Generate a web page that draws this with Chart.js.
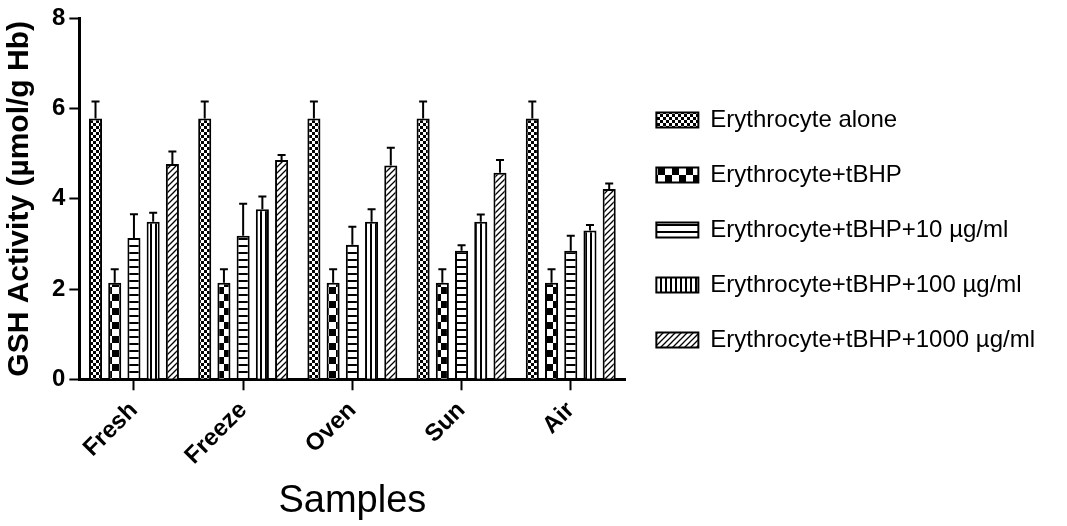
<!DOCTYPE html>
<html>
<head>
<meta charset="utf-8">
<script src="https://cdn.jsdelivr.net/npm/chart.js@4/dist/chart.umd.min.js"></script>
<style>
  body { margin: 0; background: #fff; }
  #chart { display: block; }
</style>
</head>
<body>
<canvas id="chart" width="1067" height="526"></canvas>
<script>
// categories and series
var samples = ['Fresh', 'Freeze', 'Oven', 'Sun', 'Air'];
var seriesNames = [
    'Erythrocyte alone',
    'Erythrocyte+tBHP',
    'Erythrocyte+tBHP+10 \u00b5g/ml',
    'Erythrocyte+tBHP+100 \u00b5g/ml',
    'Erythrocyte+tBHP+1000 \u00b5g/ml'
];
var aloneVals = [5.78, 5.78, 5.78, 5.78, 5.78];
var aloneErr = [0.38, 0.38, 0.38, 0.38, 0.38];
var tbhpVals = [2.14, 2.14, 2.14, 2.14, 2.14];
var tbhpErr = [0.30, 0.30, 0.30, 0.30, 0.30];
var dose10Vals = [3.13, 3.18, 2.98, 2.85, 2.85];
var dose10Err = [0.53, 0.71, 0.40, 0.12, 0.33];
var dose100Vals = [3.49, 3.77, 3.49, 3.49, 3.30];
var dose100Err = [0.20, 0.28, 0.28, 0.16, 0.12];
var dose1000Vals = [4.77, 4.86, 4.74, 4.58, 4.22];
var dose1000Err = [0.28, 0.11, 0.39, 0.28, 0.12];
var yTicks = [0, 2, 4, 6, 8];

var FONT = "'Liberation Sans', Arial, sans-serif";

// black and white fill patterns, one per series
var makePattern = function(kind){
    var c = document.createElement('canvas');
    var g = c.getContext('2d');
    if (kind == 'fine') {
        c.width = 6; c.height = 6;
        g.fillStyle = '#fff'; g.fillRect(0, 0, 6, 6);
        g.fillStyle = '#000';
        g.fillRect(0, 0, 3, 3); g.fillRect(3, 3, 3, 3);
    } else if (kind == 'check') {
        c.width = 14; c.height = 14;
        g.fillStyle = '#fff'; g.fillRect(0, 0, 14, 14);
        g.fillStyle = '#000';
        g.fillRect(0, 0, 7, 7); g.fillRect(7, 7, 7, 7);
    } else if (kind == 'hlines') {
        c.width = 4; c.height = 7;
        g.fillStyle = '#fff'; g.fillRect(0, 0, 4, 7);
        g.fillStyle = '#000'; g.fillRect(0, 0, 4, 2);
    } else if (kind == 'vlines') {
        c.width = 5; c.height = 4;
        g.fillStyle = '#fff'; g.fillRect(0, 0, 5, 4);
        g.fillStyle = '#000'; g.fillRect(0, 0, 2, 4);
    } else {
        c.width = 6; c.height = 6;
        g.fillStyle = '#fff'; g.fillRect(0, 0, 6, 6);
        g.strokeStyle = '#000'; g.lineWidth = 1.3;
        g.beginPath();
        g.moveTo(-1, 7); g.lineTo(7, -1);
        g.moveTo(-1, 1); g.lineTo(1, -1);
        g.moveTo(5, 7); g.lineTo(7, 5);
        g.stroke();
    }
    return g.createPattern(c, 'repeat');
};

var patternKinds = ['fine', 'check', 'hlines', 'vlines', 'diag'];
var seriesVals = [aloneVals, tbhpVals, dose10Vals, dose100Vals, dose1000Vals];
var seriesErr = [aloneErr, tbhpErr, dose10Err, dose100Err, dose1000Err];

var datasets = [];
for (var i = 0; i < seriesNames.length; i++) {
    datasets.push({
        label: seriesNames[i],
        data: seriesVals[i],
        errors: seriesErr[i],
        backgroundColor: makePattern(patternKinds[i]),
        borderColor: '#000',
        borderWidth: 2,
        categoryPercentage: 0.88,
        barPercentage: 0.68
    });
}

// upper error bars with a small cap
var errorBars = {
    id: 'errorBars',
    afterDatasetsDraw: function(chart){
        var ctx = chart.ctx;
        var y = chart.scales.y;
        ctx.save();
        ctx.strokeStyle = '#000';
        ctx.lineWidth = 2;
        chart.data.datasets.forEach(function(ds, i){
            var meta = chart.getDatasetMeta(i);
            meta.data.forEach(function(bar, j){
                var top = y.getPixelForValue(ds.data[j] + ds.errors[j]);
                ctx.beginPath();
                ctx.moveTo(bar.x, bar.y);
                ctx.lineTo(bar.x, top);
                ctx.moveTo(bar.x - 4, top);
                ctx.lineTo(bar.x + 4, top);
                ctx.stroke();
            });
        });
        ctx.restore();
    }
};

var ctx = document.getElementById('chart').getContext('2d');
var chartObj = new Chart(ctx, {
    type: 'bar',
    data: {
        labels: samples,
        datasets: datasets
    },
    options: {
        responsive: false,
        animation: false,
        devicePixelRatio: 1,
        layout: {
            padding: {left: 2, right: 22, top: 4, bottom: 2}
        },
        plugins: {
            tooltip: {enabled: false},
            legend: {
                position: 'right',
                align: 'start',
                maxWidth: 470,
                title: {
                    display: true,
                    text: '',
                    font: {size: 10},
                    padding: {top: 0, bottom: 61}
                },
                labels: {
                    boxWidth: 42,
                    boxHeight: 15,
                    padding: 31,
                    color: '#000',
                    font: {family: FONT, size: 24}
                }
            }
        },
        scales: {
            x: {
                grid: {
                    offset: false,
                    drawOnChartArea: false,
                    drawTicks: true,
                    tickLength: 11,
                    tickWidth: 2,
                    color: '#000'
                },
                border: {display: true, color: '#000', width: 3},
                ticks: {
                    color: '#000',
                    maxRotation: 45,
                    minRotation: 45,
                    padding: 6,
                    font: {family: FONT, size: 24, weight: 'bold'}
                },
                title: {
                    display: true,
                    text: 'Samples',
                    color: '#000',
                    padding: {top: 2, bottom: 0},
                    font: {family: FONT, size: 38}
                }
            },
            y: {
                min: 0,
                max: 8,
                afterBuildTicks: function(scale){
                    scale.ticks = yTicks.map(function(v){ return {value: v}; });
                },
                grid: {
                    drawOnChartArea: false,
                    drawTicks: true,
                    tickLength: 10,
                    tickWidth: 2,
                    color: '#000'
                },
                border: {display: true, color: '#000', width: 3},
                ticks: {
                    color: '#000',
                    padding: 4,
                    font: {family: FONT, size: 24, weight: 'bold'}
                },
                title: {
                    display: true,
                    text: 'GSH Activity (\u00b5mol/g Hb)',
                    color: '#000',
                    padding: {top: 0, bottom: 10},
                    font: {family: FONT, size: 30, weight: 'bold'}
                }
            }
        }
    },
    plugins: [errorBars]
});
</script>
</body>
</html>
